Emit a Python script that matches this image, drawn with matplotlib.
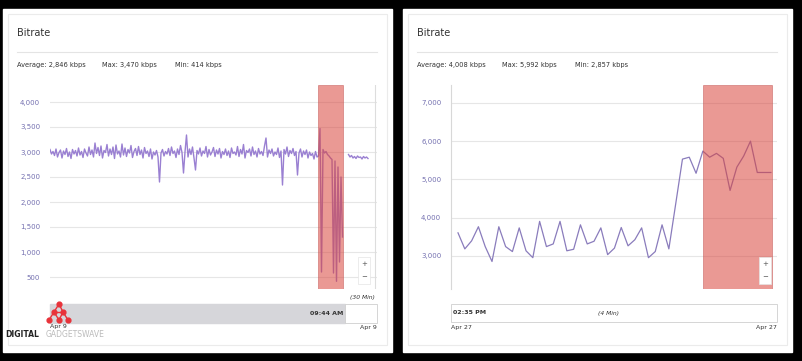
import numpy as np
import matplotlib.pyplot as plt
from matplotlib.patches import Rectangle

# bitrate samples (kbps), left panel: Apr 9 session, NaN = gap in the stream
left_main = [
    3050, 2960, 3010, 2930, 3060, 2900, 2990, 3040, 2880, 3020,
    2950, 3070, 2910, 3000, 2870, 3050, 2960, 3030, 2920, 3080,
    2940, 3010, 2890, 3060, 2980, 2920, 3100, 2950, 3040, 2900,
    3180, 2970, 3090, 2930, 3120, 2880, 3030, 2990, 3150, 2920,
    3060, 2950, 3100, 2870, 3140, 2960, 3020, 2900, 3160, 2940,
    3080, 2910, 3050, 2980, 3130, 2890, 3010, 3070, 2930, 3110,
    2950, 3040, 2880, 3090, 2970, 3020, 2910, 3060, 2860, 3000,
    2940, 3030, 2900, 2400, 2980, 3050, 2920, 3010, 2960, 3070,
    2930, 3100, 2970, 3020, 2890, 3060, 2950, 3130, 2990, 2580,
    3000, 3340, 2900, 3060, 2950, 3100, 2880, 2640, 3030, 2960,
    3080, 2920, 3020, 2970, 3110, 2900, 3050, 2940, 3000, 3090,
    2910, 3040, 2960, 3070, 2880, 3010, 2950, 3060, 2930, 3020,
    2890, 3080, 2970, 3000, 2940, 3110, 2910, 3050, 2960, 3150,
    2880, 3030, 2990, 3060, 2920, 3100, 2950, 3020, 2900, 3070,
    2960, 3010, 2930, 3120, 3280, 2900, 3040, 2970, 3060, 2920,
    3000, 2950, 3080, 2890, 3020, 2340, 3050, 2960, 3100, 2910,
    3030, 2970, 3070, 2930, 3010, 2540, 2980, 3060, 2900, 3020,
    2950, 3040, 2880, 3000, 2930, 2970, 2860, 3010, 2900,
]
left_drop = [2920, 3470, 600, 3050, 2980, 3010, 2950, 2920, 2880, 2850,
             580, 2820, 414, 2700, 800, 2500, 1300]
left_gap = [np.nan, np.nan, np.nan]
left_tail = [2950, 2900, 2930, 2880, 2910, 2870, 2920, 2890, 2900, 2860,
             2910, 2880, 2900, 2870]
left_values = left_main + left_drop + left_gap + left_tail
left_highlight = (178.7, 195.3)
left_ticks = [500, 1000, 1500, 2000, 2500, 3000, 3500, 4000]

# right panel: Apr 27 session
right_values = [
    3600, 3180, 3390, 3760, 3240, 2850, 3760, 3240, 3110, 3730,
    3130, 2950, 3900, 3240, 3310, 3900, 3130, 3170, 3810, 3310,
    3380, 3730, 3030, 3200, 3740, 3260, 3420, 3730, 2950, 3110,
    3810, 3180, 4350, 5530, 5580, 5160, 5740, 5580, 5680, 5550,
    4710, 5320, 5610, 6000, 5180, 5180, 5180,
]
right_highlight = (36.0, 46.2)
right_ticks = [3000, 4000, 5000, 6000, 7000]

left_stats = ["Average: 2,846 kbps", "Max: 3,470 kbps", "Min: 414 kbps"]
right_stats = ["Average: 4,008 kbps", "Max: 5,992 kbps", "Min: 2,857 kbps"]

W, H = 802, 361
fig = plt.figure(figsize=(W / 100, H / 100), dpi=100, facecolor="black")


def px_rect(x0, y0, x1, y1):
    return [x0 / W, 1 - y1 / H, (x1 - x0) / W, (y1 - y0) / H]


# background layer in pixel coordinates
bg = fig.add_axes([0, 0, 1, 1], zorder=0)
bg.set_xlim(0, W)
bg.set_ylim(H, 0)
bg.axis("off")

txt = "#333333"
for ox, stats in [(0, left_stats), (400, right_stats)]:
    bg.add_patch(Rectangle((ox + 3, 9), 389, 343, color="white"))
    bg.add_patch(Rectangle((ox + 8, 14), 379, 331, facecolor="white",
                           edgecolor="#ebebeb", lw=0.8))
    bg.text(ox + 17, 33, "Bitrate", fontsize=7, color=txt, va="center")
    bg.plot([ox + 17, ox + 377], [52, 52], color="#e4e4e4", lw=0.8)
    for sx, s in zip([17, 102, 175], stats):
        bg.text(ox + sx, 65, s, fontsize=4.8, color=txt, va="center")

# left navigator
bg.add_patch(Rectangle((50, 304), 295, 19, color="#d6d6da"))
bg.add_patch(Rectangle((345, 304), 32, 19, facecolor="white",
                       edgecolor="#cfcfcf", lw=0.6))
bg.text(343, 313.5, "09:44 AM", fontsize=4.5, fontweight="bold", color=txt,
        ha="right", va="center")
bg.text(362, 298, "(30 Min)", fontsize=4.3, style="italic", color=txt,
        ha="center", va="center")
bg.text(58, 326.5, "Apr 9", fontsize=4.5, color=txt, ha="center", va="center")
bg.text(377, 327.5, "Apr 9", fontsize=4.5, color=txt, ha="right", va="center")

# right navigator
bg.add_patch(Rectangle((451, 304), 326, 18, facecolor="white",
                       edgecolor="#cfcfcf", lw=0.6))
bg.text(453, 313, "02:35 PM", fontsize=4.5, fontweight="bold", color=txt,
        va="center")
bg.text(608, 313, "(4 Min)", fontsize=4.3, style="italic", color=txt,
        ha="center", va="center")
bg.text(451, 327.5, "Apr 27", fontsize=4.5, color=txt, va="center")
bg.text(777, 327.5, "Apr 27", fontsize=4.5, color=txt, ha="right", va="center")

# watermark
logo_nodes = [(59, 304), (54, 312), (63, 312), (49, 320), (59, 320), (68, 320)]
logo_links = [(0, 1), (0, 2), (1, 3), (1, 4), (2, 4), (2, 5), (1, 2)]
for a, b in logo_links:
    bg.plot([logo_nodes[a][0], logo_nodes[b][0]],
            [logo_nodes[a][1], logo_nodes[b][1]], color="#e8333a", lw=1)
bg.scatter([p[0] for p in logo_nodes], [p[1] for p in logo_nodes],
           s=12, color="#e8333a", zorder=3)
bg.text(5, 334.5, "DIGITAL", fontsize=5.5, fontweight="bold", color="#222222",
        va="center")
bg.text(46, 334.5, "GADGETSWAVE", fontsize=5.5, color="#bbbbbb", va="center")


def style_axes(ax, ticks):
    ax.set_facecolor("none")
    ax.set_yticks(ticks)
    ax.set_yticklabels([f"{t:,}" for t in ticks])
    ax.tick_params(axis="y", length=0, labelsize=5, labelcolor="#7470b0",
                   pad=7)
    ax.tick_params(axis="x", bottom=False, labelbottom=False)
    ax.grid(axis="y", color="#e6e6e6", lw=0.8)
    ax.set_axisbelow(True)
    for s in ax.spines.values():
        s.set_visible(False)


red = "#d9453d"

# left chart
ax1 = fig.add_axes(px_rect(50, 85, 377, 289), zorder=1)
x1 = np.arange(len(left_values))
ax1.plot(x1, left_values, color="#9a80d2", lw=1.0)
ax1.axvspan(*left_highlight, facecolor=red, alpha=0.55, edgecolor="#c0504d",
            lw=0.6, zorder=3)
ax1.set_xlim(0, 218)
ax1.set_ylim(260, 4340)
style_axes(ax1, left_ticks)
ax1.axvline(216.5, color="#dddddd", lw=0.8)

# right chart
ax2 = fig.add_axes(px_rect(451, 85, 777, 289), zorder=1)
x2 = np.arange(len(right_values))
ax2.plot(x2, right_values, color="#8a7cbc", lw=0.9)
ax2.axvspan(*right_highlight, facecolor=red, alpha=0.55, edgecolor="#c0504d",
            lw=0.6, zorder=3)
ax2.set_xlim(-1.03, 46.9)
ax2.set_ylim(2130, 7470)
style_axes(ax2, right_ticks)
ax2.spines["left"].set_visible(True)
ax2.spines["left"].set_color("#d8d8d8")

# zoom buttons (+ / -)
top = fig.add_axes([0, 0, 1, 1], zorder=2)
top.set_xlim(0, W)
top.set_ylim(H, 0)
top.axis("off")
for bx in [358, 759]:
    top.add_patch(Rectangle((bx, 257), 12, 27, facecolor="white",
                            edgecolor="#e4e4e4", lw=0.5))
    top.text(bx + 6, 264, "+", fontsize=5, color="#555555", ha="center",
             va="center")
    top.text(bx + 6, 277, "\u2212", fontsize=5, color="#555555", ha="center",
             va="center")

fig.savefig("out.png", dpi=100, facecolor="black")
